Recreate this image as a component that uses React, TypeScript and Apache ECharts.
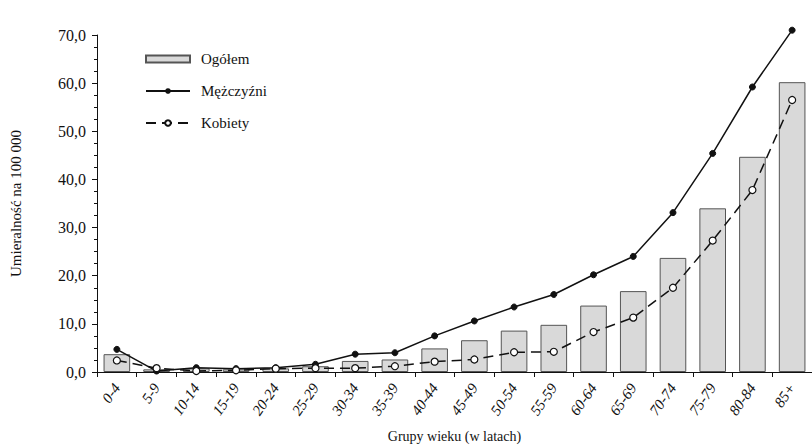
import React, { useEffect, useRef } from 'react';
import * as echarts from 'echarts';

const categories = ['0-4', '5-9', '10-14', '15-19', '20-24', '25-29', '30-34', '35-39', '40-44', '45-49', '50-54', '55-59', '60-64', '65-69', '70-74', '75-79', '80-84', '85+'];
const ogolem = [3.7, 0.55, 0.75, 0.55, 0.75, 1.2, 2.3, 2.6, 4.9, 6.6, 8.6, 9.8, 13.8, 16.8, 23.7, 34.0, 44.7, 60.2];
const mezczyzni = [4.7, 0.2, 0.9, 0.7, 0.9, 1.6, 3.7, 4.0, 7.5, 10.6, 13.5, 16.1, 20.2, 24.0, 33.1, 45.4, 59.2, 71.0];
const kobiety = [2.4, 0.8, 0.2, 0.35, 0.7, 0.8, 0.8, 1.2, 2.15, 2.6, 4.1, 4.2, 8.3, 11.3, 17.5, 27.3, 37.8, 56.5];

const FONT = '"Liberation Serif", "DejaVu Serif", serif';

export default function App() {
  const ref = useRef<HTMLDivElement>(null);
  useEffect(() => {
    if (!ref.current) return;
    const chart = echarts.init(ref.current, undefined, { renderer: 'svg' });
    chart.setOption({
      animation: false,
      backgroundColor: '#ffffff',
      textStyle: { fontFamily: FONT, color: '#111' },
      grid: { left: 95, right: -8, top: 35, bottom: 75, containLabel: false },
      legend: {
        orient: 'vertical',
        left: 140,
        top: 46,
        itemWidth: 44,
        itemHeight: 7,
        itemGap: 16,
        textStyle: { fontFamily: FONT, fontSize: 15, color: '#111', lineHeight: 16, padding: [0, 0, 0, 6] },
        data: [
          { name: 'Ogółem', icon: 'rect' },
          { name: 'Mężczyźni' },
          { name: 'Kobiety' },
        ],
      },
      xAxis: {
        type: 'category',
        data: categories,
        name: 'Grupy wieku (w latach)',
        nameLocation: 'middle',
        nameGap: 57,
        nameTextStyle: { fontFamily: FONT, fontSize: 14, color: '#111' },
        axisLine: { lineStyle: { color: '#111', width: 1 } },
        axisTick: { show: true, length: 5, lineStyle: { color: '#111' } },
        axisLabel: {
          rotate: 55,
          margin: 13,
          fontFamily: FONT,
          fontStyle: 'italic',
          fontSize: 15,
          color: '#111',
          interval: 0,
        },
      },
      yAxis: {
        type: 'value',
        min: 0,
        max: 70,
        interval: 10,
        name: 'Umieralność na 100 000',
        nameLocation: 'middle',
        nameGap: 74,
        nameRotate: 90,
        nameTextStyle: { fontFamily: FONT, fontSize: 15, color: '#111' },
        axisLine: { show: true, lineStyle: { color: '#111', width: 1 } },
        axisTick: { show: true, length: 5, lineStyle: { color: '#111' } },
        minorTick: { show: true, splitNumber: 4, length: 3, lineStyle: { color: '#111' } },
        splitLine: { show: false },
        axisLabel: {
          margin: 11,
          fontFamily: FONT,
          fontSize: 16,
          color: '#111',
          formatter: (v: number) => v.toFixed(1).replace('.', ','),
        },
      },
      series: [
        {
          name: 'Ogółem',
          type: 'bar',
          data: ogolem,
          barCategoryGap: '33%',
          itemStyle: { color: '#d9d9d9', borderColor: '#555', borderWidth: 1 },
        },
        {
          name: 'Mężczyźni',
          type: 'line',
          data: mezczyzni,
          clip: false,
          symbol: 'circle',
          symbolSize: 6,
          lineStyle: { color: '#111', width: 1.5 },
          itemStyle: { color: '#111', borderColor: '#111' },
        },
        {
          name: 'Kobiety',
          type: 'line',
          data: kobiety,
          clip: false,
          symbol: 'circle',
          symbolSize: 7,
          lineStyle: { color: '#111', width: 1.5, type: [10, 6] },
          itemStyle: { color: '#fff', borderColor: '#111', borderWidth: 1.2 },
        },
      ],
    });
    return () => chart.dispose();
  }, []);
  return <div ref={ref} style={{ position: 'fixed', left: 0, top: 0, width: 812, height: 448 }} />;
}
